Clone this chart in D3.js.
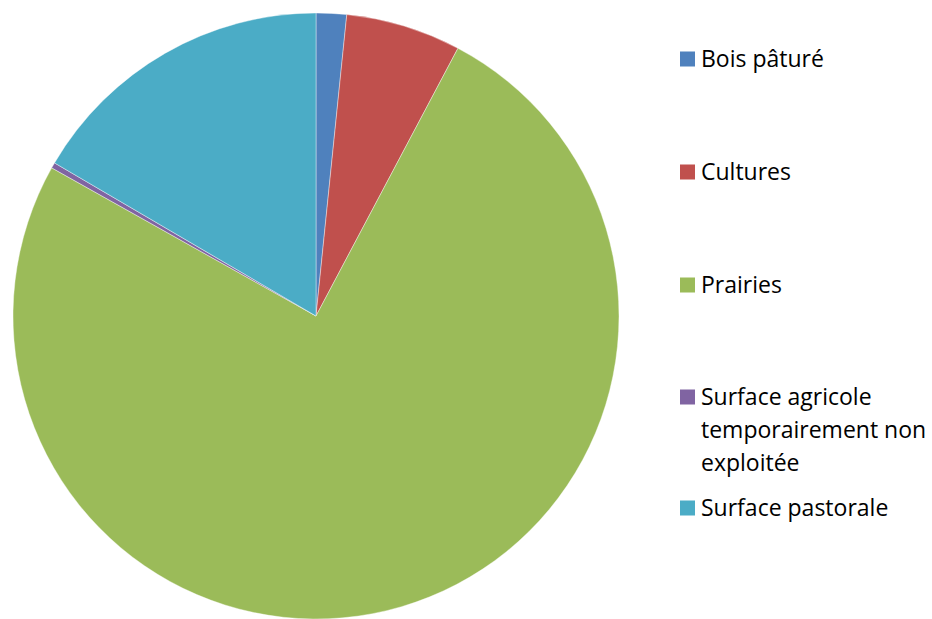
<!DOCTYPE html>
<html><head><meta charset="utf-8">
<script src="https://cdn.jsdelivr.net/npm/d3@7"></script>
<style>body{margin:0;background:#fff}svg{display:block}</style>
</head><body>
<script>
const categories = ["Bois pâturé","Cultures","Prairies","Surface agricole temporairement non exploitée","Surface pastorale"];
const values = [1.62, 6.14, 75.37, 0.3, 16.57];
const colors = ["#4F81BD","#C0504D","#9BBB59","#8064A2","#4BACC6"];
const legendLines = [["Bois pâturé"],["Cultures"],["Prairies"],["Surface agricole","temporairement non","exploitée"],["Surface pastorale"]];
const legendY = [59,172,285,397,508];

const W=932,H=619;
const svg=d3.select("body").append("svg").attr("width",W).attr("height",H);
const cx=316,cy=316,r=303;
const pie=d3.pie().sort(null).value(d=>d)(values);
const arc=d3.arc().innerRadius(0).outerRadius(r);
const g=svg.append("g").attr("transform",`translate(${cx},${cy})`);
g.selectAll("path").data(pie).enter().append("path")
 .attr("d",arc).attr("fill",(d,i)=>colors[i])
 .attr("stroke","#fff").attr("stroke-width",0.4);

const lg=svg.append("g");
categories.forEach((c,i)=>{
  const y=legendY[i];
  lg.append("rect").attr("x",680).attr("y",y-7.5).attr("width",15).attr("height",15).attr("fill",colors[i]);
  const t=lg.append("text").attr("x",701).attr("y",y)
   .attr("font-family","'Open Sans', sans-serif").attr("font-size",23).attr("fill","#000");
  legendLines[i].forEach((l,j)=>{
    t.append("tspan").attr("x",701).attr("dy",j===0?"0.36em":"33").text(l);
  });
});
</script>
</body></html>
